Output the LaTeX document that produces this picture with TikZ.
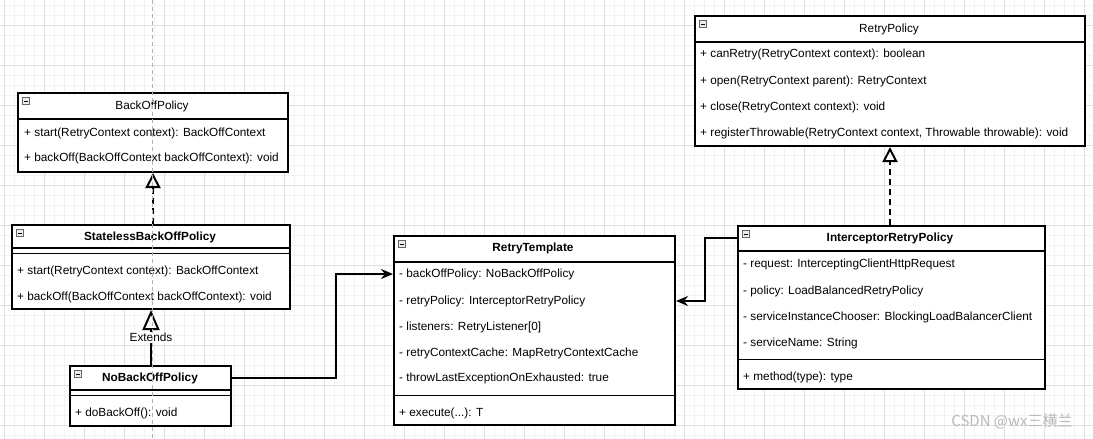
\documentclass[tikz,border=0pt]{standalone}
\usepackage{fontspec}
\setmainfont{Liberation Sans}
\newfontfamily\cjk{Noto Sans CJK SC}
\usetikzlibrary{arrows.meta,calc,positioning}

\begin{document}
\begin{tikzpicture}[x=1pt,y=-1pt]
	\tikzstyle{every node}=[font=\fontsize{11.8}{14}\selectfont, text=black]
	\tikzstyle{classbox}=[draw, line width=2pt, fill=white, anchor=north west, inner sep=0pt]
	\tikzstyle{title}=[inner sep=0pt]
	\tikzstyle{bold title}=[inner sep=0pt, font=\fontsize{11.8}{14}\selectfont\bfseries]
	\tikzstyle{row}=[anchor=west, inner sep=0pt]
	\tikzstyle{foldicon}=[draw=gray!80!black, fill=gray!15, line width=0.6pt, minimum size=7pt, inner sep=0pt]
	\tikzstyle{thin}=[line width=1pt]
	\tikzstyle{impl}=[line width=2pt, dashed, dash pattern=on 6pt off 4pt, -{Triangle[open, length=15pt, width=15pt]}]
	\tikzstyle{ext}=[line width=2pt, -{Triangle[open, length=20pt, width=17pt]}]
	\tikzstyle{conn}=[line width=2pt, -{Stealth[length=12pt, width=10pt, inset=4pt]}]
	\useasboundingbox (0,0) rectangle (1093,439);
	\fill[white] (0,0) rectangle (1093,439);
	% background grid
	\foreach \x in {4,14,...,1094} \draw[gray!10, line width=0.8pt] (\x,0) -- (\x,439);
	\foreach \y in {5,15,...,435} \draw[gray!10, line width=0.8pt] (0,\y) -- (1093,\y);
	\foreach \x in {4,44,...,1084} \draw[gray!25, line width=1pt] (\x,0) -- (\x,439);
	\foreach \y in {25,65,...,425} \draw[gray!25, line width=1pt] (0,\y) -- (1093,\y);

	% BackOffPolicy
	\node[classbox, minimum width=270, minimum height=79] (bop) at (17,92) {};
	\draw[line width=2pt] (17,119) -- (287,119);
	\node[foldicon] (bop-icon) at (26,101) {\rule{4pt}{0.8pt}};
	\node[title] (bop-title) at (152,106) {BackOffPolicy};
	\node[row] (bop-r1) at (24,133) {+ start(RetryContext context): BackOffContext};
	\node[row] (bop-r2) at (24,158) {+ backOff(BackOffContext backOffContext): void};

	% StatelessBackOffPolicy
	\node[classbox, minimum width=278, minimum height=84] (sbp) at (11,224) {};
	\draw[line width=2pt] (11,248) -- (289,248);
	\draw[thin] (11,253) -- (289,253);
	\node[foldicon] (sbp-icon) at (20,233) {\rule{4pt}{0.8pt}};
	\node[bold title] (sbp-title) at (150,237) {StatelessBackOffPolicy};
	\node[row] (sbp-r1) at (17,271) {+ start(RetryContext context): BackOffContext};
	\node[row] (sbp-r2) at (17,297) {+ backOff(BackOffContext backOffContext): void};

	% NoBackOffPolicy
	\node[classbox, minimum width=161, minimum height=60] (nbp) at (69,365) {};
	\draw[line width=2pt] (69,390) -- (230,390);
	\draw[thin] (69,395) -- (230,395);
	\node[foldicon] (nbp-icon) at (78,374) {\rule{4pt}{0.8pt}};
	\node[bold title] (nbp-title) at (150,378) {NoBackOffPolicy};
	\node[row] (nbp-r1) at (75,413) {+ doBackOff(): void};

	% RetryTemplate
	\node[classbox, minimum width=281, minimum height=189] (rt) at (393,235) {};
	\draw[line width=2pt] (393,262) -- (674,262);
	\draw[thin] (393,395) -- (674,395);
	\node[foldicon] (rt-icon) at (402,244) {\rule{4pt}{0.8pt}};
	\node[bold title] (rt-title) at (533,248) {RetryTemplate};
	\node[row] (rt-r1) at (399,274) {- backOffPolicy: NoBackOffPolicy};
	\node[row] (rt-r2) at (399,301) {- retryPolicy: InterceptorRetryPolicy};
	\node[row] (rt-r3) at (399,327) {- listeners: RetryListener[0]};
	\node[row] (rt-r4) at (399,353) {- retryContextCache: MapRetryContextCache};
	\node[row] (rt-r5) at (399,378) {- throwLastExceptionOnExhausted: true};
	\node[row] (rt-m1) at (399,413) {+ execute(...): T};

	% InterceptorRetryPolicy
	\node[classbox, minimum width=307, minimum height=163] (irp) at (737,225) {};
	\draw[line width=2pt] (737,251) -- (1044,251);
	\draw[thin] (737,359) -- (1044,359);
	\node[foldicon] (irp-icon) at (746,234) {\rule{4pt}{0.8pt}};
	\node[bold title] (irp-title) at (890,238) {InterceptorRetryPolicy};
	\node[row] (irp-r1) at (743,264) {- request: InterceptingClientHttpRequest};
	\node[row] (irp-r2) at (743,291) {- policy: LoadBalancedRetryPolicy};
	\node[row] (irp-r3) at (743,317) {- serviceInstanceChooser: BlockingLoadBalancerClient};
	\node[row] (irp-r4) at (743,343) {- serviceName: String};
	\node[row] (irp-m1) at (743,377) {+ method(type): type};

	% RetryPolicy
	\node[classbox, minimum width=390, minimum height=130] (rp) at (694,15) {};
	\draw[line width=2pt] (694,42) -- (1084,42);
	\node[foldicon] (rp-icon) at (703,24) {\rule{4pt}{0.8pt}};
	\node[title] (rp-title) at (889,29) {RetryPolicy};
	\node[row] (rp-r1) at (700,54) {+ canRetry(RetryContext context): boolean};
	\node[row] (rp-r2) at (700,81) {+ open(RetryContext parent): RetryContext};
	\node[row] (rp-r3) at (700,107) {+ close(RetryContext context): void};
	\node[row] (rp-r4) at (700,133) {+ registerThrowable(RetryContext context, Throwable throwable): void};

	% relations
	\draw[impl] (sbp.north -| bop.south) -- (bop.south);
	\draw[ext] (nbp.north -| sbp.south) -- (sbp.south)
		node[pos=0.5, fill=white, inner sep=1pt] (ext-label) {Extends};
	\draw[impl] (irp.north -| rp.south) -- (rp.south);
	\draw[conn] (nbp.east |- nbp-title) -- ++(104,0) |- (rt.west |- rt-r1);
	\draw[conn] (irp.west |- irp-title) -- ++(-32,0) |- (rt.east |- rt-r2);

	% page guide
	\draw[gray!60, line width=1pt, dash pattern=on 4pt off 3pt] (152,0) -- (152,439);

	\node[text=gray!55, font=\fontsize{15}{17}\selectfont\cjk] (mark) at (1012,421) {CSDN @wx三横兰};
\end{tikzpicture}
\end{document}
